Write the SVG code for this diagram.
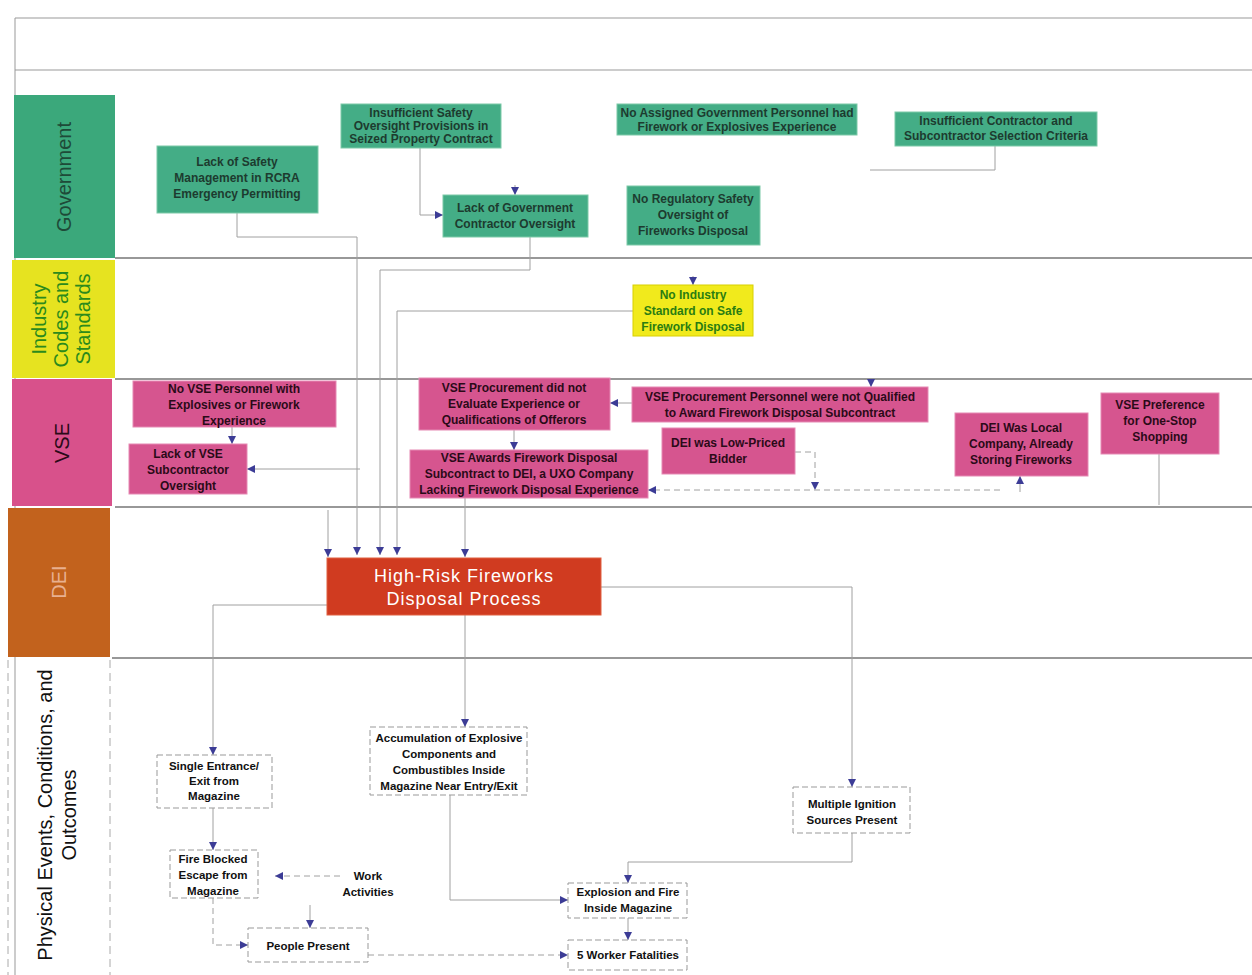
<svg xmlns="http://www.w3.org/2000/svg" width="1252" height="975" viewBox="0 0 1252 975">
<defs>
<marker id="ah" viewBox="0 0 10 10" refX="10" refY="5" markerWidth="8" markerHeight="8" markerUnits="userSpaceOnUse" orient="auto"><path d="M0,0 L10,5 L0,10 z" fill="#3c3c96"/></marker>
<style>
text{font-family:"Liberation Sans",Arial,sans-serif;text-anchor:middle}
.gov rect{fill:#44ad86;stroke:#7cc9a8;stroke-width:1}
.gov text{font-size:12px;fill:#1d3b2f;font-weight:bold}
.ind rect{fill:#f1ea1c;stroke:#d8d000}
.ind text{font-size:12px;fill:#2a7d12;font-weight:bold}
.vse rect{fill:#d6558f;stroke:#e58ab3}
.vse text{font-size:12px;fill:#2b0a18;font-weight:bold}
.phy rect{fill:#fff;stroke:#999;stroke-dasharray:6 3}
.phy text{font-size:11.5px;fill:#111;font-weight:bold}
.c path{fill:none;stroke:#a0a0a0;stroke-width:1}
.c .d{stroke-dasharray:6 4}
.lane{stroke:#777;stroke-width:1.5}
.lbl{font-size:20px}
</style>
</defs>
<rect width="1252" height="975" fill="#fff"/>
<g id="frame">
<path d="M15,18 H1252 M15,18 V975 M15,70 H1252" stroke="#999" stroke-width="1" fill="none"/>
<path class="lane" d="M115,258 H1252 M115,379 H1252 M115,507 H1252 M112,658 H1252"/>
</g>
<g id="lane-government"><rect x="14" y="95" width="101" height="163" fill="#3ba87b"/><text class="lbl" transform="translate(71,177) rotate(-90)" fill="#1e4a38">Government</text></g>
<g id="lane-industry"><rect x="12" y="260" width="103" height="118" fill="#e6e320"/><text class="lbl" transform="translate(46,319) rotate(-90)" fill="#2b8a1c"><tspan x="0" dy="0">Industry</tspan><tspan x="0" dy="22">Codes and</tspan><tspan x="0" dy="22">Standards</tspan></text></g>
<g id="lane-vse"><rect x="12" y="379" width="100" height="127" fill="#d8518b"/><text class="lbl" transform="translate(69,443) rotate(-90)" fill="#2b0a18">VSE</text></g>
<g id="lane-dei"><rect x="8" y="508" width="102" height="149" fill="#c2621d"/><text class="lbl" transform="translate(66,582) rotate(-90)" fill="#e8b090">DEI</text></g>
<g id="lane-physical"><path d="M8,660 V975 M110,660 V975" stroke="#aaa" stroke-dasharray="8 5" fill="none"/><text class="lbl" transform="translate(52,815) rotate(-90)" fill="#111"><tspan x="0" dy="0">Physical Events, Conditions, and</tspan><tspan x="0" dy="24">Outcomes</tspan></text></g>
<g id="connectors" class="c">
<path d="M420,148 V215 H443" marker-end="url(#ah)"/>
<path d="M515,185 V195" marker-end="url(#ah)"/>
<path d="M995,146 V170 H870"/>
<path d="M237,213 V237 H357 V555" marker-end="url(#ah)"/>
<path d="M530,237 V270 H380 V555" marker-end="url(#ah)"/>
<path d="M693,276 V285" marker-end="url(#ah)"/>
<path d="M633,311 H397 V555" marker-end="url(#ah)"/>
<path d="M871,380 V387" marker-end="url(#ah)"/>
<path d="M232,427 V444" marker-end="url(#ah)"/>
<path d="M360,469 H247" marker-end="url(#ah)"/>
<path d="M632,403 H610" marker-end="url(#ah)"/>
<path d="M514,430 V450" marker-end="url(#ah)"/>
<path class="d" d="M795,452 H815 V490" marker-end="url(#ah)"/>
<path d="M1020,492 V476" marker-end="url(#ah)"/>
<path class="d" d="M1000,490 H648" marker-end="url(#ah)"/>
<path d="M1159,454 V505"/>
<path d="M328,510 V557" marker-end="url(#ah)"/>
<path d="M465,498 V557" marker-end="url(#ah)"/>
<path d="M601,587 H852 V787" marker-end="url(#ah)"/>
<path d="M465,615 V727" marker-end="url(#ah)"/>
<path d="M327,605 H213 V755" marker-end="url(#ah)"/>
<path d="M213,808 V850" marker-end="url(#ah)"/>
<path class="d" d="M340,876 H275" marker-end="url(#ah)"/>
<path class="d" d="M213,898 V945 H248" marker-end="url(#ah)"/>
<path d="M310,905 V928" marker-end="url(#ah)"/>
<path d="M450,795 V900 H568" marker-end="url(#ah)"/>
<path d="M852,833 V862 H628 V883" marker-end="url(#ah)"/>
<path d="M628,918 V940" marker-end="url(#ah)"/>
<path class="d" d="M368,955 H568" marker-end="url(#ah)"/>
</g>
<g id="gov-seized" class="gov"><rect x="341" y="104" width="160" height="44"/><text x="421" y="117">Insufficient Safety</text><text x="421" y="130">Oversight Provisions in</text><text x="421" y="143">Seized Property Contract</text></g>
<g id="gov-rcra" class="gov"><rect x="157" y="146" width="161" height="67"/><text x="237" y="166">Lack of Safety</text><text x="237" y="182">Management in RCRA</text><text x="237" y="198">Emergency Permitting</text></g>
<g id="gov-oversight" class="gov"><rect x="443" y="195" width="145" height="42"/><text x="515" y="212">Lack of Government</text><text x="515" y="228">Contractor Oversight</text></g>
<g id="gov-personnel" class="gov"><rect x="617" y="104" width="240" height="31"/><text x="737" y="117">No Assigned Government Personnel had</text><text x="737" y="131">Firework or Explosives Experience</text></g>
<g id="gov-criteria" class="gov"><rect x="895" y="112" width="202" height="34"/><text x="996" y="125">Insufficient Contractor and</text><text x="996" y="140">Subcontractor Selection Criteria</text></g>
<g id="gov-regulatory" class="gov"><rect x="627" y="186" width="133" height="59"/><text x="693" y="203">No Regulatory Safety</text><text x="693" y="219">Oversight of</text><text x="693" y="235">Fireworks Disposal</text></g>
<g id="ind-standard" class="ind"><rect x="633" y="285" width="120" height="51"/><text x="693" y="299">No Industry</text><text x="693" y="315">Standard on Safe</text><text x="693" y="331">Firework Disposal</text></g>
<g id="vse-personnel" class="vse"><rect x="133" y="381" width="203" height="46"/><text x="234" y="393">No VSE Personnel with</text><text x="234" y="409">Explosives or Firework</text><text x="234" y="425">Experience</text></g>
<g id="vse-oversight" class="vse"><rect x="129" y="444" width="118" height="50"/><text x="188" y="458">Lack of VSE</text><text x="188" y="474">Subcontractor</text><text x="188" y="490">Oversight</text></g>
<g id="vse-evaluate" class="vse"><rect x="419" y="378" width="191" height="52"/><text x="514" y="392">VSE Procurement did not</text><text x="514" y="408">Evaluate Experience or</text><text x="514" y="424">Qualifications of Offerors</text></g>
<g id="vse-qualified" class="vse"><rect x="632" y="387" width="296" height="35"/><text x="780" y="401">VSE Procurement Personnel were not Qualified</text><text x="780" y="417">to Award Firework Disposal Subcontract</text></g>
<g id="vse-awards" class="vse"><rect x="410" y="450" width="238" height="48"/><text x="529" y="462">VSE Awards Firework Disposal</text><text x="529" y="478">Subcontract to DEI, a UXO Company</text><text x="529" y="494">Lacking Firework Disposal Experience</text></g>
<g id="vse-lowprice" class="vse"><rect x="662" y="428" width="133" height="46"/><text x="728" y="447">DEI was Low-Priced</text><text x="728" y="463">Bidder</text></g>
<g id="vse-local" class="vse"><rect x="955" y="413" width="133" height="63"/><text x="1021" y="432">DEI Was Local</text><text x="1021" y="448">Company, Already</text><text x="1021" y="464">Storing Fireworks</text></g>
<g id="vse-onestop" class="vse"><rect x="1101" y="393" width="118" height="61"/><text x="1160" y="409">VSE Preference</text><text x="1160" y="425">for One-Stop</text><text x="1160" y="441">Shopping</text></g>
<g id="dei-process"><rect x="327" y="558" width="274" height="57" fill="#d03b20" stroke="#e06040"/><text x="464" y="582" font-size="18" fill="#fff" letter-spacing="1">High-Risk Fireworks</text><text x="464" y="605" font-size="18" fill="#fff" letter-spacing="1">Disposal Process</text></g>
<g id="phy-single" class="phy"><rect x="157" y="755" width="115" height="53"/><text x="214" y="770">Single Entrance/</text><text x="214" y="785">Exit from</text><text x="214" y="800">Magazine</text></g>
<g id="phy-accum" class="phy"><rect x="370" y="727" width="157" height="68"/><text x="449" y="742">Accumulation of Explosive</text><text x="449" y="758">Components and</text><text x="449" y="774">Combustibles Inside</text><text x="449" y="790">Magazine Near Entry/Exit</text></g>
<g id="phy-ignition" class="phy"><rect x="793" y="787" width="117" height="46"/><text x="852" y="808">Multiple Ignition</text><text x="852" y="824">Sources Present</text></g>
<g id="phy-fireblocked" class="phy"><rect x="170" y="850" width="88" height="48"/><text x="213" y="863">Fire Blocked</text><text x="213" y="879">Escape from</text><text x="213" y="895">Magazine</text></g>
<g id="phy-work"><text x="368" y="880" font-size="11.5" font-weight="bold" fill="#111">Work</text><text x="368" y="896" font-size="11.5" font-weight="bold" fill="#111">Activities</text></g>
<g id="phy-people" class="phy"><rect x="248" y="928" width="120" height="34"/><text x="308" y="950">People Present</text></g>
<g id="phy-explosion" class="phy"><rect x="568" y="883" width="119" height="35"/><text x="628" y="896">Explosion and Fire</text><text x="628" y="912">Inside Magazine</text></g>
<g id="phy-fatal" class="phy"><rect x="568" y="940" width="119" height="30"/><text x="628" y="959">5 Worker Fatalities</text></g>
</svg>
